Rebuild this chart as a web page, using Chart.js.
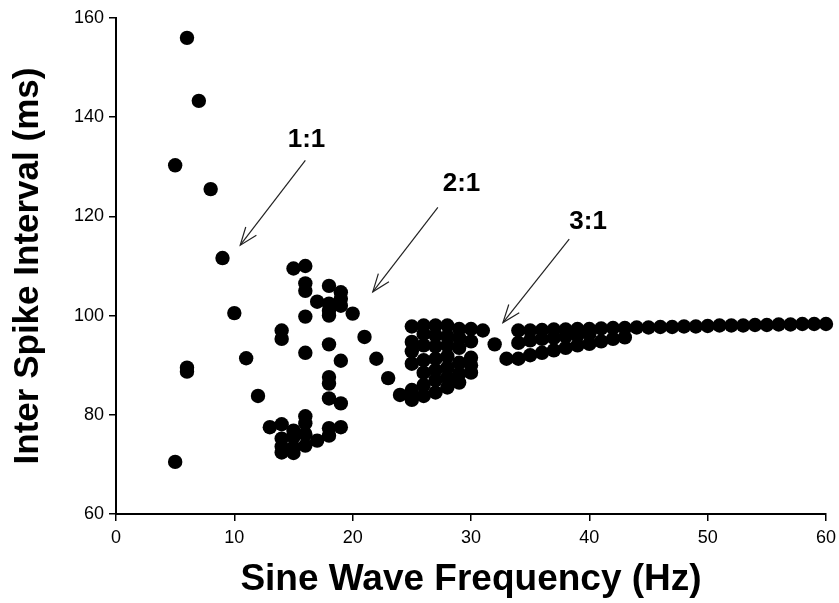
<!DOCTYPE html>
<html lang="en">
<head>
  <meta charset="UTF-8" />
  <title>Inter Spike Interval vs Sine Wave Frequency</title>
  <style>
    body {
      margin: 0;
      background: #ffffff;
    }
    .wrap {
      width: 839px;
      height: 603px;
    }
  </style>
</head>
<body>
  <div class="wrap">
    <canvas id="isiChart" width="839" height="603"></canvas>
  </div>

  <script src="https://cdn.jsdelivr.net/npm/chart.js"></script>
  <script>
    // frequency (Hz) and inter spike interval (ms), one entry per dot
    const freqHz = [
      5, 5, 6, 6, 6, 7, 8, 9, 10, 11, 12, 13,
      14, 14, 14, 14, 14, 14,
      15, 15, 15, 15, 15,
      16, 16, 16, 16, 16, 16, 16, 16, 16,
      17, 17,
      18, 18, 18, 18, 18, 18, 18, 18, 18, 18,
      19, 19, 19, 19, 19, 19,
      20, 21, 22, 23, 24,
      25, 25, 25, 25, 25, 25,
      26, 26, 26, 26, 26, 26, 26,
      27, 27, 27, 27, 27, 27, 27,
      28, 28, 28, 28, 28, 28, 28,
      29, 29, 29, 29, 29, 29,
      30, 30, 30, 30, 30,
      31, 32, 33,
      34, 35, 36, 37, 38, 39, 40, 41, 42, 43, 44, 45, 46, 47, 48, 49, 50,
      51, 52, 53, 54, 55, 56, 57, 58, 59, 60,
      34, 35, 36, 37, 38, 39, 40,
      34, 35, 36, 37, 38, 39, 40, 41, 42, 43
    ];
    const isiMs = [
      130.3, 70.5, 156, 89.5, 88.7, 143.3, 125.5, 111.6, 100.5, 91.4, 83.8, 77.5,
      97.0, 95.3, 78.1, 75.2, 73.6, 72.4,
      109.5, 76.8, 75.5, 73.4, 72.3,
      110.0, 106.5, 105.0, 99.8, 92.5, 79.7, 78.3, 76.1, 73.8,
      102.8, 74.8,
      106.0, 102.4, 101.0, 100.0, 94.2, 87.6, 86.3, 83.3, 77.3, 75.8,
      104.7, 103.4, 102.0, 90.9, 82.3, 77.5,
      100.4, 95.7, 91.3, 87.4, 84.0,
      97.8, 94.7, 92.8, 90.3, 85.0, 83.0,
      98.0, 96.3, 94.0, 91.0, 88.5, 86.0, 83.8,
      98.0, 96.0, 93.8, 91.3, 89.0, 87.0, 84.5,
      98.0, 95.8, 94.0, 91.8, 89.5, 87.5, 85.5,
      97.3, 95.5, 93.5, 90.5, 88.3, 86.5,
      97.3, 94.8, 91.5, 90.0, 88.5,
      97.0, 94.2, 91.3,
      97.0, 97.0, 97.1, 97.2, 97.2, 97.3, 97.3, 97.4, 97.5, 97.5, 97.6, 97.6, 97.7, 97.7, 97.8, 97.8, 97.9,
      98.0, 98.0, 98.0, 98.1, 98.1, 98.2, 98.2, 98.3, 98.3, 98.3,
      94.5, 95.0, 95.3, 95.5, 95.8, 96.0, 96.3,
      91.3, 92.0, 92.5, 93.0, 93.5, 94.0, 94.3, 94.8, 95.3, 95.6
    ];

    const xTicks = [0, 10, 20, 30, 40, 50, 60];
    const yTicks = [60, 80, 100, 120, 140, 160];

    // mode-locking labels with their arrows (data units)
    const lockLabels = ['1:1', '2:1', '3:1'];
    const labelAt = [[16.1, 135.5], [29.2, 126.5], [39.9, 119.0]];
    const arrowFrom = [[16.0, 131.3], [27.2, 121.8], [38.3, 115.4]];
    const arrowTo = [[10.5, 114.2], [21.7, 104.8], [32.7, 98.6]];

    const points = freqHz.map((f, i) => ({ x: f, y: isiMs[i] }));

    const lockArrows = {
      id: 'lockArrows',
      afterDatasetsDraw(chart) {
        const { ctx, scales: { x, y } } = chart;
        ctx.save();
        ctx.strokeStyle = '#222';
        ctx.lineWidth = 1.2;
        lockLabels.forEach((txt, i) => {
          const x0 = x.getPixelForValue(arrowFrom[i][0]);
          const y0 = y.getPixelForValue(arrowFrom[i][1]);
          const x1 = x.getPixelForValue(arrowTo[i][0]);
          const y1 = y.getPixelForValue(arrowTo[i][1]);
          ctx.beginPath();
          ctx.moveTo(x0, y0);
          ctx.lineTo(x1, y1);
          ctx.stroke();
          // open arrow head
          const ang = Math.atan2(y1 - y0, x1 - x0);
          const len = 19, spread = 0.36;
          ctx.beginPath();
          ctx.moveTo(x1 - len * Math.cos(ang - spread), y1 - len * Math.sin(ang - spread));
          ctx.lineTo(x1, y1);
          ctx.lineTo(x1 - len * Math.cos(ang + spread), y1 - len * Math.sin(ang + spread));
          ctx.stroke();

          ctx.fillStyle = '#000';
          ctx.font = 'bold 26px "Liberation Sans", Arial, sans-serif';
          ctx.textAlign = 'center';
          ctx.textBaseline = 'middle';
          ctx.fillText(txt, x.getPixelForValue(labelAt[i][0]), y.getPixelForValue(labelAt[i][1]));
        });
        ctx.restore();
      }
    };

    const tickFont = { family: '"Liberation Sans", Arial, sans-serif', size: 18 };
    const titleFont = { family: '"Liberation Sans", Arial, sans-serif', size: 37, weight: 'bold' };

    new Chart(document.getElementById('isiChart'), {
      type: 'scatter',
      data: {
        datasets: [{
          data: points,
          backgroundColor: '#000',
          borderWidth: 0,
          pointRadius: 7.2,
          pointHoverRadius: 7.2,
          clip: false
        }]
      },
      options: {
        responsive: false,
        animation: false,
        events: [],
        layout: { padding: { top: 18, right: 13, left: 0, bottom: 0 } },
        plugins: { legend: { display: false }, tooltip: { enabled: false } },
        scales: {
          x: {
            type: 'linear',
            min: 0,
            max: 60,
            afterBuildTicks: s => { s.ticks = xTicks.map(v => ({ value: v })); },
            afterFit: s => { s.height = 89; s.paddingRight = 0; },
            border: { color: '#000', width: 2 },
            grid: { drawOnChartArea: false, drawTicks: true, tickLength: 7, color: '#000', lineWidth: 1.5 },
            ticks: { color: '#000', font: tickFont, padding: 6, maxRotation: 0 },
            title: {
              display: true,
              text: 'Sine Wave Frequency (Hz)',
              color: '#000',
              font: titleFont,
              padding: { top: 6, bottom: 1 }
            }
          },
          y: {
            type: 'linear',
            min: 60,
            max: 160,
            afterBuildTicks: s => { s.ticks = yTicks.map(v => ({ value: v })); },
            afterFit: s => { s.width = 116; },
            border: { color: '#000', width: 2 },
            grid: { drawOnChartArea: false, drawTicks: true, tickLength: 7, color: '#000', lineWidth: 1.5 },
            ticks: { color: '#000', font: tickFont, padding: 5 },
            title: {
              display: true,
              text: 'Inter Spike Interval (ms)',
              color: '#000',
              font: { family: '"Liberation Sans", Arial, sans-serif', size: 35, weight: 'bold' },
              padding: { top: 7, bottom: 0 }
            }
          }
        }
      },
      plugins: [lockArrows]
    });
  </script>
</body>
</html>
